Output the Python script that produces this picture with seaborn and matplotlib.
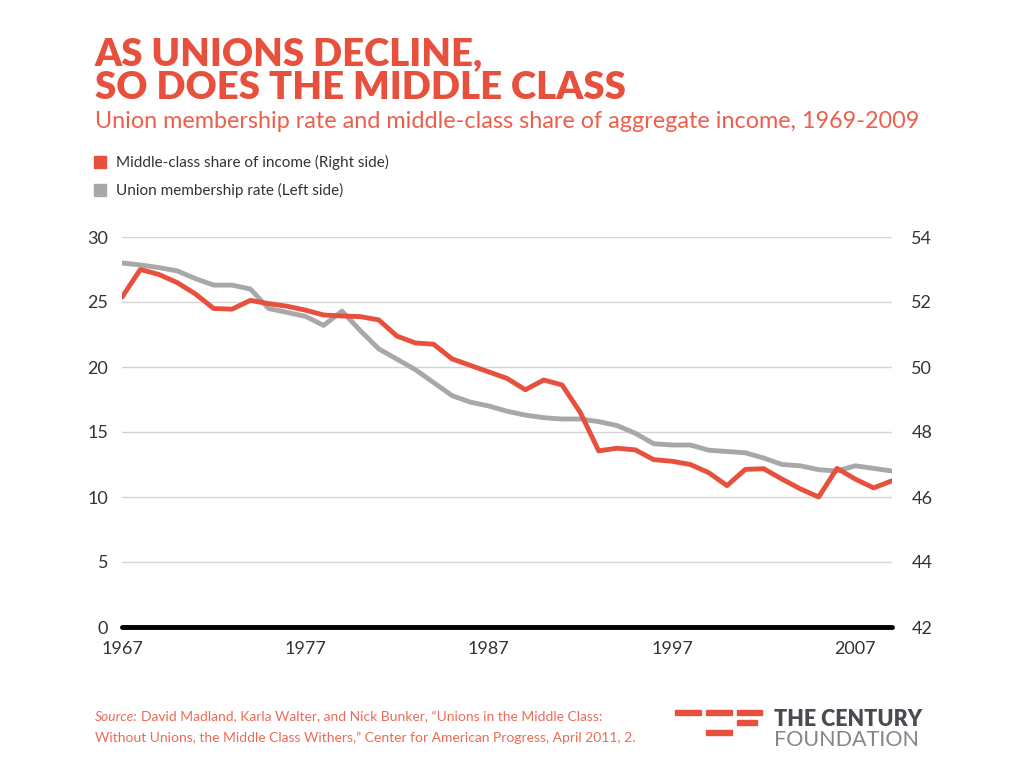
import pandas as pd
import matplotlib.pyplot as plt
import seaborn as sns

# -----------------------------
# Data
# -----------------------------
years = list(range(1967, 2010))

# Union membership rate, % (left axis)
union_rate = [28.0, 27.85, 27.65, 27.4, 26.8, 26.3, 26.3, 26.0, 24.5, 24.2,
              23.9, 23.2, 24.3, 22.8, 21.4, 20.6, 19.8, 18.8, 17.8, 17.3,
              17.0, 16.6, 16.3, 16.1, 16.0, 16.0, 15.8, 15.5, 14.9, 14.1,
              14.0, 14.0, 13.6, 13.5, 13.4, 13.0, 12.5, 12.4, 12.1, 12.0,
              12.4, 12.2, 12.0]

# Middle-class share of aggregate income, % (right axis)
middle_share = [52.15, 53.0, 52.85, 52.6, 52.25, 51.8, 51.78, 52.05, 51.95, 51.87,
                51.75, 51.6, 51.57, 51.55, 51.45, 50.95, 50.74, 50.7, 50.25, 50.05,
                49.85, 49.65, 49.3, 49.6, 49.45, 48.6, 47.42, 47.5, 47.45, 47.15,
                47.1, 47.0, 46.75, 46.35, 46.85, 46.87, 46.55, 46.25, 46.0, 46.88,
                46.55, 46.28, 46.5]

left_ticks = [0, 5, 10, 15, 20, 25, 30]
right_ticks = [42, 44, 46, 48, 50, 52, 54]
x_ticks = [1967, 1977, 1987, 1997, 2007]

df = pd.DataFrame({"Year": years, "Union": union_rate, "Share": middle_share})

RED = "#E8503E"
GRAY = "#A8A8A8"
TEXT = "#333333"

sns.set_style("white")
plt.rcParams["font.family"] = ["Lato", "DejaVu Sans"]

# -----------------------------
# Figure
# -----------------------------
fig = plt.figure(figsize=(10.24, 7.82), dpi=100)
ax = fig.add_axes([122 / 1024, 1 - 627 / 782, 770 / 1024, 390 / 782])
ax2 = ax.twinx()

sns.lineplot(data=df, x="Year", y="Union", ax=ax, color=GRAY, linewidth=3.5, zorder=3)
sns.lineplot(data=df, x="Year", y="Share", ax=ax2, color=RED, linewidth=3.5, zorder=4)

ax.set_xlim(1967, 2009)
ax.set_ylim(0, 30)
ax2.set_ylim(42, 54)

ax.set_xticks(x_ticks)
ax.set_yticks(left_ticks)
ax2.set_yticks(right_ticks)

ax.grid(axis="y", color="#D4D4D4", linewidth=1)
ax.axhline(0, color="black", linewidth=3.5, solid_capstyle="round", zorder=5, clip_on=False)

for a in (ax, ax2):
    for s in a.spines.values():
        s.set_visible(False)
    a.set_xlabel("")
    a.set_ylabel("")
    a.tick_params(length=0, labelsize=13, colors=TEXT)

ax.tick_params(axis="y", pad=10)
ax2.tick_params(axis="y", pad=14)
ax.tick_params(axis="x", pad=10)

# -----------------------------
# Titles, legend, source, logo
# -----------------------------
fig.text(95 / 1024, 1 - 37 / 782, "AS UNIONS DECLINE,\nSO DOES THE MIDDLE CLASS",
         color=RED, fontsize=27.5, fontweight="heavy", va="top", ha="left", linespacing=1.0)
fig.text(95 / 1024, 1 - 121 / 782,
         "Union membership rate and middle-class share of aggregate income, 1969-2009",
         color="#EC5F4C", fontsize=16.8, va="center", ha="left")

fig.patches.append(plt.Rectangle((94 / 1024, 1 - 168 / 782), 12 / 1024, 12 / 782,
                                 transform=fig.transFigure, color=RED))
fig.text(116 / 1024, 1 - 162 / 782, "Middle-class share of income (Right side)",
         color=TEXT, fontsize=11, va="center", ha="left")
fig.patches.append(plt.Rectangle((94 / 1024, 1 - 196 / 782), 12 / 1024, 12 / 782,
                                 transform=fig.transFigure, color=GRAY))
fig.text(116 / 1024, 1 - 190 / 782, "Union membership rate (Left side)",
         color=TEXT, fontsize=11, va="center", ha="left")

SRC = "#EE6A58"
fig.text(95 / 1024, 1 - 717 / 782, "Source:", color=SRC, fontsize=10,
         style="italic", va="center", ha="left")
fig.text(141 / 1024, 1 - 717 / 782,
         "David Madland, Karla Walter, and Nick Bunker, \u201cUnions in the Middle Class:",
         color=SRC, fontsize=10, va="center", ha="left")
fig.text(95 / 1024, 1 - 738 / 782,
         "Without Unions, the Middle Class Withers,\u201d Center for American Progress, April 2011, 2.",
         color=SRC, fontsize=10, va="center", ha="left")

# logo bars
for (x0, x1, y0) in [(675, 701, 710), (706, 732, 710), (737, 762, 710),
                     (737, 757, 720), (706, 732, 730)]:
    fig.patches.append(plt.Rectangle((x0 / 1024, 1 - (y0 + 5) / 782), (x1 - x0) / 1024, 5 / 782,
                                     transform=fig.transFigure, color=RED))
fig.text(774 / 1024, 1 - 719 / 782, "THE CENTURY", color="#4A4A52", fontsize=15.5,
         fontweight="heavy", va="center", ha="left")
fig.text(774 / 1024, 1 - 740 / 782, "FOUNDATION", color="#85858C", fontsize=15.5,
         va="center", ha="left")

fig.savefig("out.png", dpi=100)
